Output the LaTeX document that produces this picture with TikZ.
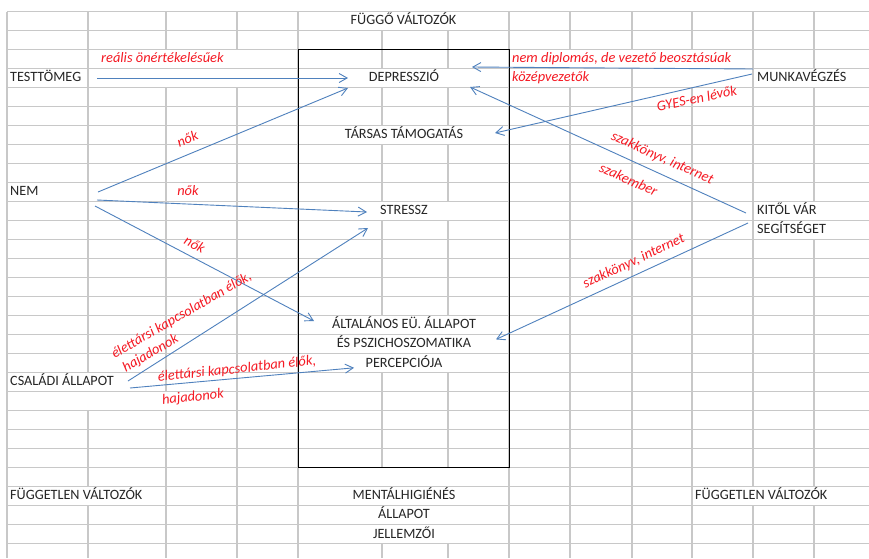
\documentclass[tikz,border=0pt]{standalone}
\usepackage{fontspec}
\setmainfont{Carlito}
\usetikzlibrary{arrows.meta,positioning}

\definecolor{gridgray}{RGB}{200,200,200}
\definecolor{linkblue}{RGB}{79,129,189}
\definecolor{notered}{RGB}{245,25,35}

\begin{document}
\begin{tikzpicture}[
    x=1pt, y=-1pt,
    cell/.style={gridgray, line width=1.4pt},
    nogrid/.style={fill=white},
    var/.style={inner xsep=0pt, inner ysep=3.25pt, text height=9.5pt, text depth=3pt,
                font=\fontsize{14.2}{16}\selectfont, text=black!85},
    note/.style={var, text=notered, font=\fontsize{14.4}{16}\selectfont\itshape},
    arrow/.style={-{Straight Barb[length=8pt,width=9pt]}, linkblue, line width=0.9pt}
]
\useasboundingbox (0,0) rectangle (869,558);
\fill[white] (0,0) rectangle (869,558);

%% ── Sheet grid ──────────────────────────────────────────────────
\foreach \k in {0,...,28}
    \draw[cell] (7,{11.5+19*\k}) -- (869,{11.5+19*\k});
\foreach \x in {7,88,166,237,298,382,448,509,570,632,692,753,814}
    \draw[cell] (\x,11.5) -- (\x,558);

%% merged cells and overflowing text hide the inner grid lines
\foreach \x/\k in {382/0,448/0,
                   166/2,237/2,570/2,632/2,692/2,
                   166/3,237/3,382/3,448/3,570/3,692/3,814/3,
                   382/6,448/6,
                   382/10,448/10,814/10,814/11,
                   382/16,448/16,382/17,448/17,382/18,448/18,
                   88/19,88/20,166/20,
                   382/24,448/24,382/25,448/25,382/26,448/26,382/27,448/27,
                   88/25,753/25,814/25}
    \fill[nogrid] ({\x-1.5},{11.5+19*\k+0.8}) rectangle ({\x+1.5},{30.5+19*\k-0.8});

%% frame round the dependent variables
\draw[line width=0.9pt] (298,49.5) rectangle (509,467.5);

%% ── Variables ───────────────────────────────────────────────────
\node[var] (fuggo) at (403.5,21) {FÜGGŐ VÁLTOZÓK};

\node[var, anchor=west] (testtomeg) at (10,78)  {TESTTÖMEG};
\node[var, anchor=west] (nem)       at (10,192) {NEM};
\node[var, anchor=west] (csaladi)   at (10,382) {CSALÁDI ÁLLAPOT};

\node[var] (depr)    at (404,78)  {DEPRESSZIÓ};
\node[var] (tarsas)  at (404,135) {TÁRSAS TÁMOGATÁS};
\node[var] (stressz) at (404,211) {STRESSZ};
\node[var] (alt)     at (404,325) {ÁLTALÁNOS EÜ. ÁLLAPOT};
\node[var, below=0pt of alt] (psz)  {ÉS PSZICHOSZOMATIKA};
\node[var, below=0pt of psz] (perc) {PERCEPCIÓJA};

\node[var, anchor=west] (munka) at (757,78)  {MUNKAVÉGZÉS};
\node[var, anchor=west] (kitol) at (757,211) {KITŐL VÁR};
\node[var, below=0pt of kitol.south west, anchor=north west] (segit) {SEGÍTSÉGET};

%% ── Footer row ──────────────────────────────────────────────────
\node[var, anchor=west] (fuggetlen1) at (10,496)  {FÜGGETLEN VÁLTOZÓK};
\node[var, anchor=west] (fuggetlen2) at (695,496) {FÜGGETLEN VÁLTOZÓK};
\node[var] (mentalis) at (404,496) {MENTÁLHIGIÉNÉS};
\node[var, below=0pt of mentalis] (allapot)   {ÁLLAPOT};
\node[var, below=0pt of allapot]  (jellemzoi) {JELLEMZŐI};

%% ── Arrows ──────────────────────────────────────────────────────
\draw[arrow] ([shift={(87,0)}]testtomeg.west) -- ([shift={(-56,0)}]depr.center);
\draw[arrow] ([shift={(88,0)}]nem.west)       -- ([shift={(-56,10)}]depr.center);
\draw[arrow] ([shift={(87,8)}]nem.west)       -- ([shift={(-37,1)}]stressz.center);
\draw[arrow] ([shift={(85,14)}]nem.west)      -- ([shift={(-90,-4)}]alt.center);
\draw[arrow] ([shift={(118,-1)}]csaladi.west) -- ([shift={(-36,17)}]stressz.center);
\draw[arrow] ([shift={(120,6)}]csaladi.west)  -- ([shift={(-50,4)}]perc.center);

\draw[arrow] ([shift={(-4,-9)}]munka.west)  -- ([shift={(68,-11)}]depr.center);
\draw[arrow] ([shift={(-5,-4)}]munka.west)  -- ([shift={(91,-2)}]tarsas.center);
\draw[arrow] ([shift={(-11,2)}]kitol.west)  -- ([shift={(66,9)}]depr.center);
\draw[arrow] ([shift={(-9,12)}]kitol.west)  -- ([shift={(92,-5)}]psz.center);

%% ── Arrow labels ────────────────────────────────────────────────
\node[note, anchor=west] (realis)   at (101,59) {reális önértékelésűek};
\node[note, rotate=22]   (nok1)     at (188,140) {nők};
\node[note]              (nok2)     at (188,192) {nők};
\node[note, rotate=-28]  (nok3)     at (194,246) {nők};
\node[note, rotate=30]   (elett1)   at (182,316) {élettársi kapcsolatban élők,};
\node[note, rotate=30]   (hajad1)   at (151,354) {hajadonok};
\node[note, rotate=6]    (elett2)   at (237,370) {élettársi kapcsolatban élők,};
\node[note, rotate=6]    (hajad2)   at (193,398) {hajadonok};

\node[note, anchor=west] (diplomas) at (512,59) {nem diplomás, de vezető beosztásúak};
\node[note, below=0pt of diplomas.south west, anchor=north west] (kozep) {középvezetők};
\node[note, rotate=12]   (gyes)      at (697,100) {GYES-en lévők};
\node[note, rotate=-24]  (szakk1)    at (662,159) {szakkönyv, internet};
\node[note, rotate=-24]  (szakember) at (628,181) {szakember};
\node[note, rotate=25]   (szakk2)    at (634,262) {szakkönyv, internet};
\end{tikzpicture}
\end{document}
